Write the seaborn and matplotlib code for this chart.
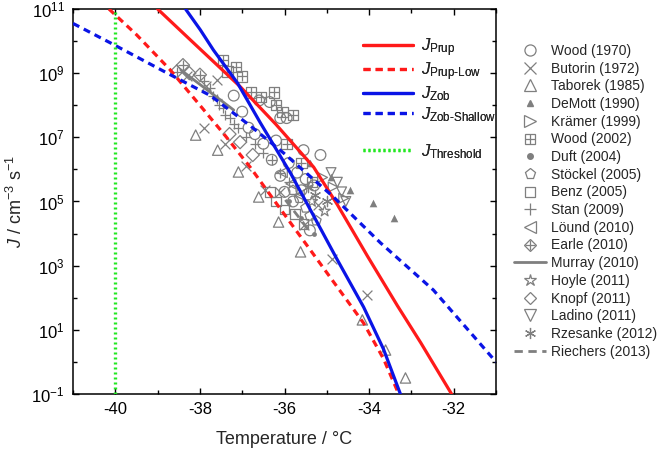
import numpy as np
import pandas as pd
import matplotlib
matplotlib.use("Agg")
import matplotlib.pyplot as plt
import seaborn as sns
from matplotlib.lines import Line2D
from matplotlib.ticker import FixedLocator, FuncFormatter, MultipleLocator, NullFormatter


# model curves: temperature (deg C) and log10 of J (cm^-3 s^-1)
prup_t = [-39.0, -38.22, -37.04, -36.2, -35.31, -34.75, -34.04, -33.33, -32.78, -32.05]
prup_logj = [11.0, 10.03, 8.57, 7.4, 6.07, 4.9, 3.3, 1.75, 0.6, -1.0]

prup_low_t = [-40.15, -39.5, -38.7, -38.0, -37.4, -36.8, -36.17, -35.39, -34.75, -34.13, -33.66, -33.3]
prup_low_logj = [11.0, 10.2, 9.1, 8.0, 7.05, 6.05, 4.9, 3.49, 2.33, 1.21, 0.1, -1.0]

zob_t = [-38.34, -37.99, -37.68, -37.11, -36.57, -35.86, -35.31, -34.75, -34.13, -33.66, -33.26]
zob_logj = [11.0, 10.35, 9.72, 8.69, 7.45, 5.89, 4.55, 3.18, 1.71, 0.4, -1.0]

zob_shallow_t = [-41.0, -40.11, -38.77, -37.75, -36.8, -36.02, -34.84, -33.73, -32.48, -31.0]
zob_shallow_logj = [10.55, 9.94, 9.0, 8.3, 7.35, 6.51, 5.14, 3.71, 2.24, 0.0]

threshold_t = -40.0

# laboratory data sets
wood1970_t = [-37.2, -37.0, -36.85, -36.6, -36.35, -36.1, -35.95, -36.3, -36.1, -35.6, -35.55,
              -35.4, -36.5, -36.2, -35.9, -35.7, -35.3, -35.8, -36.0, -35.5, -36.7, -35.15]
wood1970_logj = [8.3, 7.8, 7.3, 8.15, 8.1, 7.6, 7.6, 6.3, 5.8, 5.35, 6.6,
                 4.1, 6.8, 6.9, 6.2, 5.9, 5.5, 5.0, 5.3, 5.7, 7.1, 6.45]

butorin_t = [-38.3, -37.85, -37.6, -37.9, -37.4, -36.9, -36.45, -36.1, -35.55, -34.87, -34.04, -35.2]
butorin_logj = [8.9, 8.6, 8.8, 7.3, 6.8, 6.1, 5.35, 5.3, 4.27, 3.2, 2.1, 4.9]

taborek_t = [-38.1, -37.58, -37.09, -36.61, -36.14, -35.62, -34.16, -33.61, -33.14]
taborek_logj = [7.07, 6.6, 5.92, 5.14, 4.36, 3.43, 1.31, 0.37, -0.5]

demott_t = [-35.4, -34.9, -34.45, -33.9, -33.4]
demott_logj = [6.2, 5.75, 5.35, 4.95, 4.5]

kraemer_t = [-34.85, -34.6, -35.1]
kraemer_logj = [5.45, 5.1, 5.75]

wood2002_t = [-37.45, -37.35, -37.15, -37.0, -36.8, -36.55, -36.25, -36.2, -36.05, -35.8, -35.95, -35.35, -35.6]
wood2002_logj = [9.4, 9.05, 9.2, 8.9, 8.4, 8.25, 8.4, 8.0, 7.8, 7.7, 6.8, 5.6, 6.2]

duft_t = [-35.3, -35.6, -35.9]
duft_logj = [4.0, 4.5, 5.0]

stoeckel_t = [-35.5, -35.4, -35.65, -35.25, -35.8]
stoeckel_logj = [4.8, 4.55, 5.1, 4.4, 5.35]

benz_t = [-36.2, -36.0, -35.75, -35.55, -36.35]
benz_logj = [5.0, 4.75, 4.6, 4.3, 5.3]

stan_t = [-37.9, -37.75, -37.7, -37.6, -37.55, -37.45, -37.4, -37.3, -37.2, -37.1, -36.9, -36.7, -36.5, -36.3, -36.1, -35.9]
stan_logj = [8.75, 8.55, 8.3, 8.2, 8.0, 7.9, 7.7, 7.6, 7.4, 7.3, 7.0, 6.8, 6.5, 6.3, 5.9, 5.6]

loend_t = [-35.85, -35.65, -36.05]
loend_logj = [5.55, 5.2, 5.9]

earle_t = [-38.4, -38.0, -38.55]
earle_logj = [9.25, 8.95, 9.05]

murray_t = [-38.45, -37.2]
murray_logj = [9.1, 7.85]

hoyle_t = [-35.35, -35.05]
hoyle_logj = [5.0, 4.7]

knopf_t = [-37.3, -37.05, -38.25, -36.75]
knopf_logj = [7.1, 6.85, 9.0, 6.45]

ladino_t = [-34.75, -34.65, -34.55, -34.9]
ladino_logj = [5.6, 5.3, 5.0, 5.9]

rzesanke_t = [-35.27, -35.0, -35.45]
rzesanke_logj = [5.2, 5.0, 5.45]

riechers_t = [-35.98, -35.39]
riechers_logj = [5.05, 4.05]

GRAY = "#7f7f7f"
RED = "#ff1a1a"
BLUE = "#0a14e6"
GREEN = "#22e822"
ASTERISK = (6, 2, 0)
DASH = (0, (2.2, 1.6))
DOT = (0, (0.6, 0.9))


def to_frame(t, logj):
    return pd.DataFrame({"T": t, "J": 10.0 ** np.asarray(logj)})


def draw_points(ax, t, logj, marker, size=50, hollow=True):
    df = to_frame(t, logj)
    kws = dict(data=df, x="T", y="J", ax=ax, marker=marker, s=size, legend=False, zorder=2)
    if marker in ("x", "+", ASTERISK):
        sns.scatterplot(color=GRAY, linewidth=0.9, **kws)
    elif hollow:
        sns.scatterplot(facecolor="none", edgecolor=GRAY, linewidth=0.9, **kws)
    else:
        sns.scatterplot(color=GRAY, edgecolor=GRAY, linewidth=0, **kws)


def draw_curve(ax, t, logj, color, style, lw=2.3):
    df = to_frame(t, logj)
    sns.lineplot(data=df, x="T", y="J", ax=ax, color=color, linestyle=style, lw=lw,
                 sort=False, estimator=None, zorder=3)


sns.set_style("ticks")
plt.rcParams["font.family"] = ["Liberation Sans", "DejaVu Sans"]
plt.rcParams["mathtext.fontset"] = "custom"
plt.rcParams["mathtext.rm"] = "Liberation Sans"
plt.rcParams["mathtext.it"] = "Liberation Sans:italic"
plt.rcParams["mathtext.bf"] = "Liberation Sans:bold"
plt.rcParams["axes.unicode_minus"] = False

fig = plt.figure(figsize=(6.61, 4.57), dpi=100)
ax = fig.add_axes([73 / 661, 1 - 394 / 457, 423 / 661, 385 / 457])

# data points
draw_points(ax, taborek_t, taborek_logj, "^", 55)
draw_points(ax, wood1970_t, wood1970_logj, "o", 60)
draw_points(ax, butorin_t, butorin_logj, "x", 50)
draw_points(ax, demott_t, demott_logj, "^", 30, hollow=False)
draw_points(ax, kraemer_t, kraemer_logj, ">", 50)
draw_points(ax, wood2002_t, wood2002_logj, "s", 55)
draw_points(ax, wood2002_t, wood2002_logj, "+", 55)
draw_points(ax, duft_t, duft_logj, "o", 12, hollow=False)
draw_points(ax, stoeckel_t, stoeckel_logj, "p", 55)
draw_points(ax, benz_t, benz_logj, "s", 50)
draw_points(ax, stan_t, stan_logj, "+", 50)
draw_points(ax, loend_t, loend_logj, "<", 50)
draw_points(ax, earle_t, earle_logj, "D", 45)
draw_points(ax, earle_t, earle_logj, "+", 55)
draw_points(ax, hoyle_t, hoyle_logj, "*", 70)
draw_points(ax, knopf_t, knopf_logj, "D", 45)
draw_points(ax, ladino_t, ladino_logj, "v", 50)
draw_points(ax, rzesanke_t, rzesanke_logj, ASTERISK, 55)
draw_curve(ax, murray_t, murray_logj, GRAY, "-", lw=2.0)
draw_curve(ax, riechers_t, riechers_logj, GRAY, (0, (3, 2)), lw=2.0)

# model curves
draw_curve(ax, prup_t, prup_logj, RED, "-")
draw_curve(ax, prup_low_t, prup_low_logj, RED, DASH)
draw_curve(ax, zob_t, zob_logj, BLUE, "-")
draw_curve(ax, zob_shallow_t, zob_shallow_logj, BLUE, DASH)
ax.axvline(threshold_t, color=GREEN, lw=2.4, linestyle=DOT, zorder=3)

ax.set_yscale("log")
ax.set_xlim(-41, -31)
ax.set_ylim(1e-1, 1e11)
ax.xaxis.set_major_locator(MultipleLocator(2))
ax.xaxis.set_minor_locator(MultipleLocator(1))
ax.xaxis.set_major_formatter(FuncFormatter(lambda v, p: f"{v:.0f}"))
ax.yaxis.set_major_locator(FixedLocator([10.0 ** e for e in range(-1, 12, 2)]))
ax.yaxis.set_minor_locator(FixedLocator([10.0 ** e for e in range(0, 11, 2)]))
ax.yaxis.set_major_formatter(FuncFormatter(lambda v, p: r"$\mathregular{10^{%d}}$" % round(np.log10(v))))
ax.yaxis.set_minor_formatter(NullFormatter())
ax.tick_params(which="both", direction="in", top=True, right=True, width=1.0, labelsize=12,
               colors="black")
ax.tick_params(which="major", length=4.5, pad=6)
ax.tick_params(which="minor", length=3)
for sp in ax.spines.values():
    sp.set_linewidth(1.1)
    sp.set_color("black")

ax.set_xlabel("Temperature / \u00b0C", fontsize=13, labelpad=10)
ax.set_ylabel(r"$J$ / cm$^{-3}$ s$^{-1}$", fontsize=13, labelpad=4)

# legend for the model curves
model_handles = [
    Line2D([], [], color=RED, lw=2.3),
    Line2D([], [], color=RED, lw=2.3, ls=DASH),
    Line2D([], [], color=BLUE, lw=2.3),
    Line2D([], [], color=BLUE, lw=2.3, ls=DASH),
    Line2D([], [], color="none"),
    Line2D([], [], color=GREEN, lw=2.4, ls=DOT),
]
model_labels = [r"$J_{\mathrm{Prup}}$", r"$J_{\mathrm{Prup\text{-}Low}}$", r"$J_{\mathrm{Zob}}$",
                r"$J_{\mathrm{Zob\text{-}Shallow}}$", " ", r"$J_{\mathrm{Threshold}}$"]
leg1 = ax.legend(model_handles, model_labels, loc="upper left", bbox_to_anchor=(0.685, 0.93),
                 frameon=False, fontsize=12, handlelength=3.0, handletextpad=0.5,
                 labelspacing=0.1, borderpad=0, borderaxespad=0)
ax.add_artist(leg1)


# legend for the laboratory data
def mk(marker, ms=7, filled=False):
    if marker in ("x", "+", ASTERISK):
        return Line2D([], [], ls="none", marker=marker, color=GRAY, ms=ms, mew=0.9)
    if filled:
        return Line2D([], [], ls="none", marker=marker, color=GRAY, mec=GRAY, ms=ms)
    return Line2D([], [], ls="none", marker=marker, mfc="none", mec=GRAY, ms=ms, mew=0.9)


data_handles = [
    mk("o", 8), mk("x", 8), mk("^", 8), mk("^", 5, True), mk(">", 8),
    (mk("s", 7), mk("+", 7)), mk("o", 4, True), mk("p", 8), mk("s", 7), mk("+", 8),
    mk("<", 8), (mk("D", 6), mk("+", 7)), Line2D([], [], color=GRAY, lw=2.0), mk("*", 9),
    mk("D", 6.5), mk("v", 8), mk(ASTERISK, 8),
    Line2D([], [], color=GRAY, lw=2.0, ls=(0, (3, 2))),
]
data_labels = ["Wood (1970)", "Butorin (1972)", "Taborek (1985)", "DeMott (1990)",
               "Kr\u00e4mer (1999)", "Wood (2002)", "Duft (2004)", "St\u00f6ckel (2005)",
               "Benz (2005)", "Stan (2009)", "L\u00f6und (2010)", "Earle (2010)",
               "Murray (2010)", "Hoyle (2011)", "Knopf (2011)", "Ladino (2011)",
               "Rzesanke (2012)", "Riechers (2013)"]
fig.legend(data_handles, data_labels, loc="upper left",
           bbox_to_anchor=(514 / 661, 1 - 44 / 457), frameon=False, fontsize=10,
           handlelength=2.3, handletextpad=0.35, labelspacing=0.265, borderpad=0,
           borderaxespad=0, numpoints=1)

fig.savefig("out.png", dpi=100)
